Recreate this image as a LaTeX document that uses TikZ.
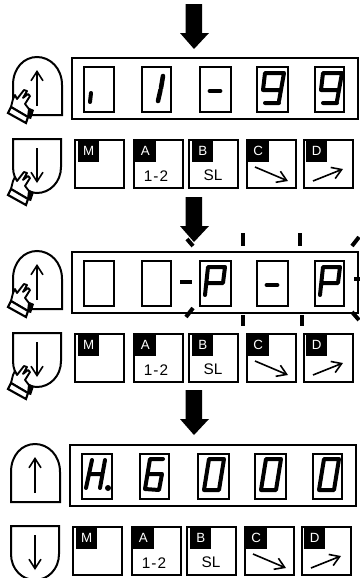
\documentclass[tikz,border=0pt]{standalone}
\usepackage{fontspec}
\setmainfont{Liberation Sans}
\usetikzlibrary{arrows.meta,positioning}

\tikzset{
  framebox/.style={rectangle, draw, line width=1.7pt, inner sep=0pt, minimum width=286*0.75pt, minimum height=61*0.75pt, anchor=north west},
  digitbox/.style={rectangle, draw, line width=1.5pt, inner sep=0pt, minimum height=45*0.75pt, anchor=north west},
  keybox/.style={rectangle, draw, line width=1.5pt, inner sep=0pt, minimum width=49*0.75pt, minimum height=48*0.75pt, anchor=north west},
  keytag/.style={rectangle, fill=black, text=white, inner sep=0pt, minimum height=22*0.75pt, font=\fontsize{10}{10}\selectfont, anchor=north west},
  keytext/.style={inner sep=0pt, font=\fontsize{11.5}{11.5}\selectfont},
  seg/.style={line width=3pt, line cap=round, line join=round},
  thinarrow/.style={line width=1.2pt, -{Straight Barb[length=7pt,width=9pt]}},
  tick/.style={line width=3pt},
  % seven segment glyphs, box corner as origin
  glyphnone/.pic={},
  glyphlow/.pic={\draw[seg] (8,27) -- (7,36);},
  glyphone/.pic={\draw[seg, line width=3.4pt] (22,10) -- (20,22) (19.5,24) -- (17,35);},
  glyphdash/.pic={\draw[seg, line width=3.6pt] (11,25) -- (21,25);},
  glyphnine/.pic={\draw[seg] (7,24) -- (9,7) -- (28,7) -- (23,35) (23,37) -- (9,37) (7,24) -- (25,24);},
  glyphpee/.pic={\draw[seg] (6,35) -- (9,7) -- (26,7) -- (24,23) -- (8,23);},
  glyphaitch/.pic={\draw[seg] (11,7) -- (5,35) (24,7) -- (19,35) (8,21) -- (21,21); \fill (27,35) circle (3);},
  glyphsix/.pic={\draw[seg] (24,6) -- (11,6) -- (6,36) -- (20,37) -- (23,21) -- (9,21);},
  glyphzero/.pic={\draw[seg] (12,6) -- (27,6) -- (22,37) -- (7,37) -- cycle;},
  % hand pressing a key
  handpic/.pic={
    \fill (25,106) -- (34,110) -- (31,119) -- (24,117) -- cycle;
    \draw[fill=white, line width=1.4pt, line join=round] (11,107) -- (13,99) -- (15,95) -- (17,99) -- (24,90) -- (27,91) -- (23,98) -- (28,94) -- (30,96) -- (25,104) -- (29,109) -- (28,117) -- cycle;
    \draw[fill=white, line width=1.6pt] (8,113) -- (11,107) -- (28,117) -- (26,123) -- cycle;
  }
}

% one display with its keys
\newcommand{\dpanel}[7]{
  \begin{scope}[shift={#2}]
    % up and down keys
    \draw[line width=1.5pt] (13,115) -- (13,85) .. controls (13,68) and (24,57) .. (37,57) .. controls (50,57) and (62,68) .. (62,85) -- (62,115) -- cycle;
    \draw[line width=1.5pt] (13,139) -- (61,139) -- (61,167) .. controls (61,182) and (50,193) .. (37,193) .. controls (24,193) and (13,182) .. (13,167) -- cycle;
    \draw[thinarrow] (37,106) -- (37,70);
    \draw[thinarrow] (37,148) -- (37,183);
    % display
    \node[framebox] (#1frame) at (71,57) {};
    \foreach \id/\dx/\dw/\glyph in {a/83/30/#3, b/141/29/#4, c/199/31/#5, d/256/31/#6, e/314/29/#7} {
      \node[digitbox, minimum width=\dw*0.75pt] (#1\id) at (\dx,66) {};
      \pic at (#1\id.north west) {\glyph};
    }
    % function keys
    \foreach \id/\kx/\tx/\tw/\tag in {m/74/4/21/M, a/133/1/22/A, b/188/4/21/B, c/246/1/22/C, d/303/3/21/D} {
      \node[keybox] (#1k\id) at (\kx,139) {};
      \node[keytag, minimum width=\tw*0.75pt] (#1t\id) at (\kx+\tx,140) {\tag};
    }
    \node[keytext] (#1ltxt) at (156,176) {1\kern0.8pt-\kern0.8pt2};
    \node[keytext] (#1rtxt) at (213,175.5) {SL};
    \draw[thinarrow] (255,167) -- (288,181);
    \draw[thinarrow] (313,181) -- (343,169);
  \end{scope}
}

\begin{document}
\begin{tikzpicture}[x=0.75pt, y=-0.75pt]
  \useasboundingbox (0,0) rectangle (360,578);

  % big arrows between the steps
  \foreach \ay in {4,197,390}
    \fill (185.5,\ay) -- (202,\ay) -- (202,\ay+29) -- (209,\ay+29) -- (194,\ay+45) -- (180,\ay+29) -- (185.5,\ay+29) -- cycle;

  % first step
  \dpanel{first}{(0,0)}{glyphlow}{glyphone}{glyphdash}{glyphnine}{glyphnine}
  \pic at (0,0) {handpic};
  \pic at (0,82) {handpic};

  % second step
  \dpanel{second}{(0,194)}{glyphnone}{glyphnone}{glyphpee}{glyphdash}{glyphpee}
  \pic at (0,194) {handpic};
  \pic at (0,276) {handpic};

  % blink marks round the display
  \draw[tick] (180,282) -- (192,282);
  \draw[tick] (187,239) -- (193,246);
  \draw[tick] (186,317) -- (193,308);
  \draw[tick] (243,233) -- (243,246);
  \draw[tick] (300,233) -- (300,246);
  \draw[tick] (352,246) -- (359,237);
  \draw[tick] (354,279) -- (360,279);
  \draw[tick] (243,315) -- (243,326);
  \draw[tick] (302,315) -- (302,326);
  \draw[tick] (352,312) -- (359,320);

  % third step
  \dpanel{third}{(-2,387)}{glyphaitch}{glyphsix}{glyphzero}{glyphzero}{glyphzero}
\end{tikzpicture}
\end{document}
